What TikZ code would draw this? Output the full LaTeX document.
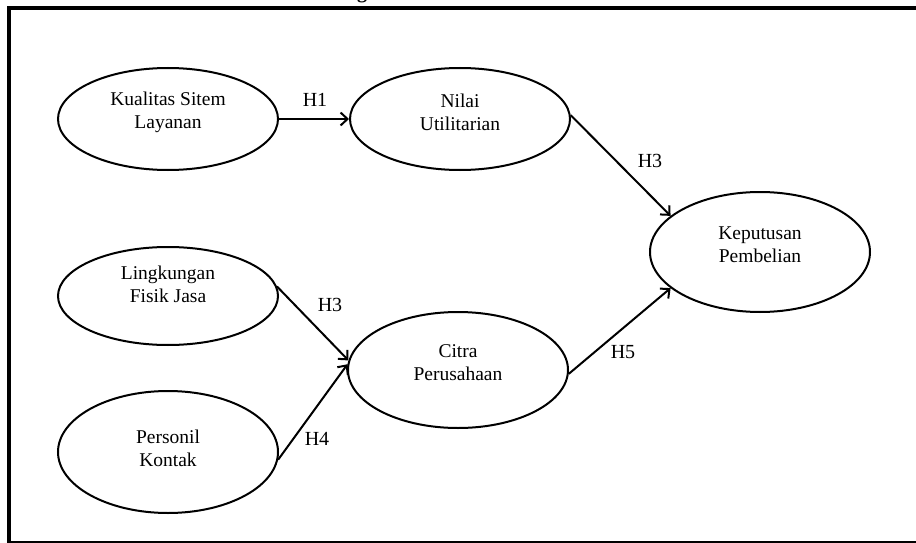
\documentclass[tikz,border=0pt]{standalone}
\usepackage{fontspec}
\setmainfont{Liberation Serif}
\usetikzlibrary{shapes.geometric,arrows.meta}
\begin{document}
\begin{tikzpicture}[x=1pt,y=-1pt,
  var/.style={draw, ellipse, line width=2pt, inner sep=0pt},
  lbl/.style={font=\fontsize{19.5}{23}\selectfont, align=center, inner sep=0pt},
  hyp/.style={font=\fontsize{20}{24}\selectfont, inner sep=0pt},
  link/.style={line width=2pt, -{Straight Barb[length=7pt,width=13pt]}}]
\useasboundingbox (0,0) rectangle (916,543);
% frame
\draw[line width=4pt] (9,543) -- (9,8) -- (916,8);
\draw[line width=2pt] (7,542) -- (916,542);
\node[font=\bfseries\fontsize{20}{24}\selectfont, anchor=base, inner sep=0pt] (title) at (362,-1) {g};
% ellipses
\node[var, minimum width=220pt, minimum height=102pt] (kual) at (168,119) {};
\node[var, minimum width=220pt, minimum height=102pt] (nilai) at (460,119) {};
\node[var, minimum width=220pt, minimum height=120pt] (kep) at (760,252) {};
\node[var, minimum width=220pt, minimum height=98pt] (ling) at (168,296) {};
\node[var, minimum width=220pt, minimum height=116pt] (citra) at (458,370) {};
\node[var, minimum width=220pt, minimum height=122pt] (pers) at (168,452) {};
% texts
\node[lbl] (tkual) at (168,112) {Kualitas Sitem\\Layanan};
\node[lbl] (tnilai) at (460,112) {Nilai\\Utilitarian};
\node[lbl] (tkep) at (760,245) {Keputusan\\Pembelian};
\node[lbl] (tling) at (168,284) {Lingkungan\\Fisik Jasa};
\node[lbl] (tcitra) at (458,363) {Citra\\Perusahaan};
\node[lbl] (tpers) at (168,448) {Personil\\Kontak};
% connectors
\draw[link] (kual.east) -- (nilai.west);
\draw[link] (nilai.2) -- (kep.158);
\draw[link] (ling.5) -- (citra.175);
\draw[link] (pers.-4) -- (citra.177);
\draw[link] (citra.-2) -- (kep.202);
% labels
\node[hyp] (h1) at (315,100) {H1};
\node[hyp] (h3a) at (650,161) {H3};
\node[hyp] (h3b) at (330,305) {H3};
\node[hyp] (h4) at (317,439) {H4};
\node[hyp] (h5) at (623,352) {H5};
\end{tikzpicture}
\end{document}
